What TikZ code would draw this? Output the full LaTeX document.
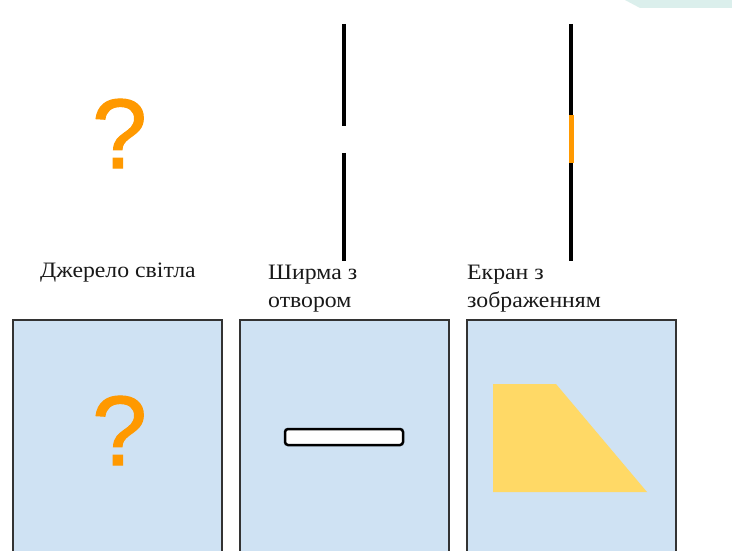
\documentclass[tikz,border=0pt]{standalone}
\usepackage{fontspec}
\setmainfont{Liberation Serif}
\newfontfamily\lblfont[FakeStretch=1.08]{Liberation Serif}
\newfontfamily\qfont[FakeBold=1.1]{Liberation Sans}
\definecolor{panelfill}{HTML}{CFE2F3}
\definecolor{panelline}{HTML}{333333}
\definecolor{qorange}{HTML}{FF9900}
\definecolor{imgyellow}{HTML}{FFD966}
\definecolor{wmark}{HTML}{D3ECE8}
\begin{document}
\begin{tikzpicture}[x=1pt,y=-1pt,
  panel/.style={draw=panelline,line width=1.5pt,fill=panelfill,minimum width=209pt,minimum height=250pt,anchor=north west,inner sep=0pt},
  qmark/.style={text=qorange,font=\qfont\fontsize{99}{99}\selectfont,anchor=base,inner sep=0pt},
  lbl/.style={font=\lblfont\fontsize{22}{28}\selectfont,align=left,anchor=north west,inner sep=0pt,text=black!90},
  barline/.style={line width=4pt,black},
  slitbox/.style={draw=black,line width=2.5pt,fill=white,rounded corners=3pt,minimum width=118pt,minimum height=16pt,inner sep=0pt}
]
\useasboundingbox (0,0) rectangle (732,551);
\fill[white] (0,0) rectangle (732,551);
\clip (0,0) rectangle (732,551);
% faint watermark fragment
\fill[wmark,opacity=0.8] (625,0) -- (732,0) -- (732,8) -- (640,8) -- cycle;
% top row
\node[qmark] (qtop) at (119.5,168) {?};
\coordinate (s1a) at (344,24);
\coordinate (s1b) at (344,126);
\coordinate (s2a) at (344,153);
\coordinate (s2b) at (344,261);
\draw[barline] (s1a) -- (s1b);
\draw[barline] (s2a) -- (s2b);
\coordinate (e1) at (571,24);
\coordinate (e2) at (571,261);
\coordinate (o1) at (571,115);
\coordinate (o2) at (571,163);
\draw[barline] (e1) -- (e2);
\draw[line width=5pt,qorange] (o1) -- (o2);
% labels
\node[lbl] (l1) at (40,262.5) {Джерело світла};
\node[lbl] (l2) at (268,265) {Ширма з\\отвором};
\node[lbl] (l3) at (467,265) {Екран з\\зображенням};
% panels
\node[panel] (p1) at (12,319) {};
\node[panel] (p2) at (239,319) {};
\node[panel] (p3) at (466,319) {};
\node[qmark] (qbot) at (119.5,465) {?};
\node[slitbox] (slit) at (344,437) {};
\fill[imgyellow] (493,384) -- (556,384) -- (647,492) -- (493,492) -- cycle;
\end{tikzpicture}
\end{document}
